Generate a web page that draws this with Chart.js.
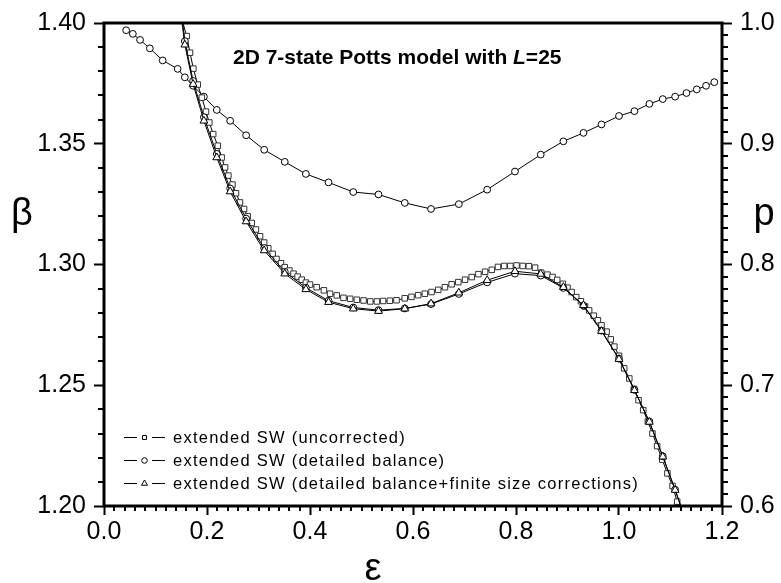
<!DOCTYPE html>
<html>
<head>
<meta charset="utf-8">
<script src="https://cdn.jsdelivr.net/npm/chart.js@4"></script>
<style>
  html, body { margin: 0; background: #fff; }
</style>
</head>
<body>
<canvas id="chart" width="781" height="583"></canvas>
<script>
// extended SW, uncorrected (squares), beta vs epsilon
const epsSW = [0.150, 0.1605, 0.167, 0.1735, 0.182, 0.190, 0.198, 0.2045, 0.212, 0.221, 0.2285, 0.235, 0.2415, 0.2494, 0.2563, 0.264, 0.272, 0.279, 0.2868, 0.295, 0.303, 0.311, 0.319, 0.3275, 0.335, 0.3437, 0.351, 0.360, 0.368, 0.376, 0.384, 0.392, 0.400, 0.413, 0.427, 0.439, 0.452, 0.465, 0.478, 0.491, 0.504, 0.517, 0.530, 0.542, 0.555, 0.568, 0.584, 0.597, 0.610, 0.623, 0.636, 0.649, 0.662, 0.675, 0.688, 0.701, 0.714, 0.727, 0.740, 0.753, 0.765, 0.777, 0.789, 0.801, 0.813, 0.825, 0.837, 0.849, 0.861, 0.871, 0.880, 0.891, 0.900, 0.908, 0.917, 0.926, 0.934, 0.942, 0.951, 0.959, 0.966, 0.976, 0.984, 0.991, 1.000, 1.010, 1.020, 1.029, 1.038, 1.047, 1.056, 1.065, 1.074, 1.084, 1.094, 1.104, 1.113, 1.122];
const betaSW = [1.4025, 1.3946, 1.3877, 1.3811, 1.3745, 1.3691, 1.3633, 1.3588, 1.3540, 1.3492, 1.3443, 1.3402, 1.3368, 1.3331, 1.3295, 1.3257, 1.3230, 1.3200, 1.3172, 1.3145, 1.3117, 1.3091, 1.3067, 1.3044, 1.3023, 1.3005, 1.2989, 1.2975, 1.2962, 1.2950, 1.2937, 1.2925, 1.2917, 1.2906, 1.2893, 1.2879, 1.2872, 1.2862, 1.2858, 1.2854, 1.2851, 1.2847, 1.2847, 1.2849, 1.2850, 1.2852, 1.2860, 1.2866, 1.2873, 1.2879, 1.2886, 1.2895, 1.2906, 1.2918, 1.2927, 1.2937, 1.2948, 1.2960, 1.2970, 1.2978, 1.2990, 1.2994, 1.2994, 1.2996, 1.2994, 1.2993, 1.2987, 1.2966, 1.2958, 1.2948, 1.2936, 1.2920, 1.2904, 1.2886, 1.2865, 1.2848, 1.2826, 1.2810, 1.2788, 1.2769, 1.2748, 1.2722, 1.2690, 1.2660, 1.2622, 1.2570, 1.2528, 1.2485, 1.2438, 1.2397, 1.2350, 1.2300, 1.2248, 1.2192, 1.2135, 1.2083, 1.2018, 1.1960];

// detailed balance (circles) and detailed balance + finite size (triangles)
const epsDB = [0.143, 0.157, 0.173, 0.194, 0.219, 0.245, 0.276, 0.311, 0.351, 0.392, 0.436, 0.484, 0.533, 0.584, 0.635, 0.689, 0.744, 0.798, 0.848, 0.892, 0.931, 0.966, 1.000, 1.030, 1.059, 1.085, 1.109, 1.131];
const betaDB = [1.417, 1.3925, 1.3760, 1.3610, 1.3458, 1.3315, 1.3190, 1.3068, 1.2970, 1.2904, 1.2850, 1.2822, 1.2811, 1.2818, 1.2836, 1.2878, 1.2926, 1.2962, 1.2954, 1.2903, 1.2830, 1.2726, 1.2610, 1.2481, 1.2350, 1.2206, 1.2068, 1.1932];
const betaDBFS = [1.414, 1.3910, 1.3747, 1.3595, 1.3443, 1.3302, 1.3178, 1.3058, 1.2962, 1.2897, 1.2844, 1.2817, 1.2807, 1.2817, 1.2838, 1.2883, 1.2935, 1.2972, 1.2961, 1.2906, 1.2831, 1.2724, 1.2608, 1.2479, 1.2348, 1.2204, 1.2066, 1.1930];

// p (right axis), circles
const epsP = [0.043, 0.056, 0.070, 0.089, 0.114, 0.143, 0.157, 0.173, 0.194, 0.219, 0.245, 0.276, 0.311, 0.351, 0.392, 0.436, 0.484, 0.533, 0.584, 0.635, 0.689, 0.744, 0.798, 0.848, 0.892, 0.931, 0.966, 1.000, 1.030, 1.059, 1.085, 1.109, 1.131, 1.151, 1.169, 1.185];
const pDB = [0.994, 0.991, 0.986, 0.979, 0.969, 0.962, 0.955, 0.948, 0.939, 0.928, 0.919, 0.907, 0.895, 0.885, 0.875, 0.868, 0.860, 0.858, 0.851, 0.846, 0.850, 0.862, 0.877, 0.891, 0.902, 0.909, 0.916, 0.923, 0.927, 0.933, 0.937, 0.939, 0.942, 0.945, 0.948, 0.951];

const legendLabels = ['extended SW (uncorrected)', 'extended SW (detailed balance)', 'extended SW (detailed balance+finite size corrections)'];

const FONT = '"Liberation Sans", Arial, sans-serif';
const pts = (xs, ys) => xs.map((x, i) => ({ x: x, y: ys[i] }));

Chart.defaults.font.family = FONT;
Chart.defaults.color = '#000';

const decor = {
  id: 'decor',
  afterDatasetsDraw(chart) {
    const { ctx, chartArea: a, scales } = chart;
    ctx.save();
    ctx.strokeStyle = '#000';
    ctx.lineWidth = 2;
    ctx.beginPath();
    // minor ticks
    for (let i = 1; i < 60; i++) {
      if (i % 10 === 0) continue;
      const x = Math.round(scales.x.getPixelForValue(i * 0.02));
      ctx.moveTo(x, a.bottom); ctx.lineTo(x, a.bottom + 5);
    }
    for (let i = 1; i < 20; i++) {
      if (i % 5 === 0) continue;
      const y = Math.round(scales.y.getPixelForValue(1.2 + i * 0.01));
      ctx.moveTo(a.left - 6, y); ctx.lineTo(a.left, y);
    }
    for (let i = 1; i < 40; i++) {
      if (i % 10 === 0) continue;
      const y = Math.round(scales.y2.getPixelForValue(0.6 + i * 0.01));
      ctx.moveTo(a.right, y); ctx.lineTo(a.right + 6, y);
    }
    ctx.stroke();
    ctx.lineWidth = 3;
    ctx.strokeRect(a.left, a.top, a.right - a.left, a.bottom - a.top);
    ctx.restore();
  },
  afterDraw(chart) {
    const { ctx, chartArea: a } = chart;
    ctx.save();
    ctx.fillStyle = '#000';
    ctx.textBaseline = 'alphabetic';

    // title
    let x = a.left + 129;
    const ty = a.top + 41;
    const parts = [['bold', '2D 7-state Potts model with '], ['italic bold', 'L'], ['bold', '=25']];
    parts.forEach(([st, t]) => {
      ctx.font = st + ' 21px ' + FONT;
      ctx.fillText(t, x, ty);
      x += ctx.measureText(t).width;
    });

    // axis titles
    ctx.font = '38px ' + FONT;
    ctx.textAlign = 'center';
    ctx.fillText('\u03b2', 22, 225);
    ctx.fillText('p', 764, 225);
    ctx.fillText('\u03b5', 373, 580);

    // legend
    ctx.textAlign = 'left';
    ctx.textBaseline = 'middle';
    ctx.font = '16.5px ' + FONT;
    ctx.letterSpacing = '1.25px';
    const shapes = ['rect', 'circle', 'triangle'];
    legendLabels.forEach((lab, i) => {
      const y = a.bottom - 69 + i * 23;
      const x0 = a.left + 20;
      ctx.strokeStyle = '#000';
      ctx.lineWidth = 1;
      ctx.beginPath();
      ctx.moveTo(x0, y + 0.5); ctx.lineTo(x0 + 13, y + 0.5);
      ctx.moveTo(x0 + 28, y + 0.5); ctx.lineTo(x0 + 41, y + 0.5);
      ctx.stroke();
      ctx.fillStyle = '#fff';
      Chart.helpers.drawPoint(ctx, { pointStyle: shapes[i], radius: i === 2 ? 3.5 : 2.8, borderWidth: 1 }, x0 + 20.5, y + 0.5);
      ctx.fillStyle = '#000';
      ctx.fillText(lab, x0 + 49, y + 1);
    });
    ctx.restore();
  }
};

new Chart(document.getElementById('chart'), {
  type: 'line',
  data: {
    datasets: [
      {
        label: legendLabels[2], data: pts(epsDB, betaDBFS), yAxisID: 'y', order: 1,
        borderColor: '#000', borderWidth: 1, pointStyle: 'triangle', pointRadius: 4.5,
        pointBorderColor: '#000', pointBackgroundColor: '#fff', pointBorderWidth: 1
      },
      {
        label: legendLabels[1], data: pts(epsDB, betaDB), yAxisID: 'y', order: 2,
        borderColor: '#000', borderWidth: 1, pointStyle: 'circle', pointRadius: 3.4,
        pointBorderColor: '#000', pointBackgroundColor: '#fff', pointBorderWidth: 1
      },
      {
        label: legendLabels[0], data: pts(epsSW, betaSW), yAxisID: 'y', order: 3,
        borderColor: '#000', borderWidth: 1, pointStyle: 'rect', pointRadius: 3.9,
        pointBorderColor: '#333', pointBackgroundColor: '#fff', pointBorderWidth: 1
      },
      {
        label: 'p', data: pts(epsP, pDB), yAxisID: 'y2', order: 4,
        borderColor: '#000', borderWidth: 1, pointStyle: 'circle', pointRadius: 3.4,
        pointBorderColor: '#000', pointBackgroundColor: '#fff', pointBorderWidth: 1
      }
    ]
  },
  options: {
    responsive: false,
    animation: false,
    layout: { padding: { top: 22, left: 0, right: 0, bottom: 0 } },
    plugins: { legend: { display: false }, tooltip: { enabled: false } },
    elements: { line: { tension: 0 } },
    scales: {
      x: {
        type: 'linear', min: 0, max: 1.2,
        border: { display: false },
        grid: { drawOnChartArea: false, color: '#000', tickLength: 9, tickWidth: 2 },
        ticks: { stepSize: 0.2, padding: 2, font: { size: 25 }, callback: v => v.toFixed(1) },
        afterFit(s) { s.height = 77; }
      },
      y: {
        position: 'left', min: 1.2, max: 1.4,
        border: { display: false },
        grid: { drawOnChartArea: false, color: '#000', tickLength: 10, tickWidth: 2 },
        ticks: { stepSize: 0.05, padding: 8, font: { size: 25 }, callback: v => v.toFixed(2) },
        afterFit(s) { s.width = 104; }
      },
      y2: {
        position: 'right', min: 0.6, max: 1.0,
        border: { display: false },
        grid: { drawOnChartArea: false, color: '#000', tickLength: 10, tickWidth: 2 },
        ticks: { stepSize: 0.1, padding: 8, font: { size: 25 }, callback: v => v.toFixed(1) },
        afterFit(s) { s.width = 59; }
      }
    }
  },
  plugins: [decor]
});
</script>
</body>
</html>
